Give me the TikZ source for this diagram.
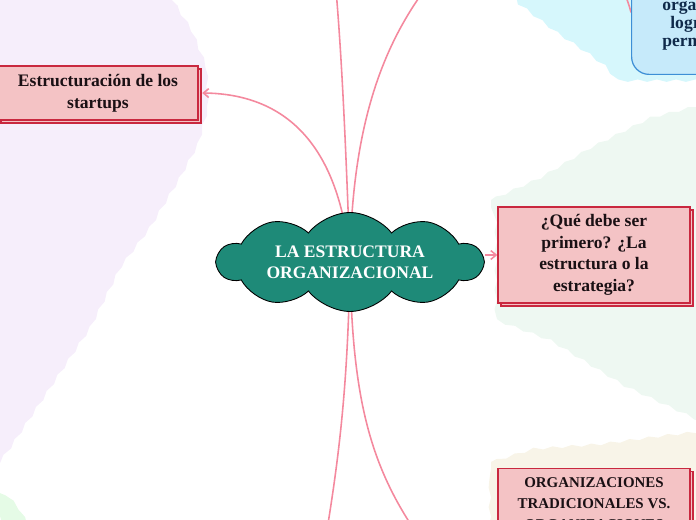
\documentclass[tikz,border=0pt]{standalone}
\usepackage{fontspec}
\setmainfont{Liberation Serif}
\usetikzlibrary{shapes.symbols,shadows,arrows.meta,decorations.pathmorphing}
\definecolor{lavender}{HTML}{F6EEFB}
\definecolor{skycyan}{HTML}{D6F7FC}
\definecolor{mintbg}{HTML}{EEF8F2}
\definecolor{creambg}{HTML}{F8F4E8}
\definecolor{leafbg}{HTML}{E5FBE6}
\definecolor{boxpink}{HTML}{F4C3C5}
\definecolor{boxred}{HTML}{C9283F}
\definecolor{boxtext}{HTML}{1A1014}
\definecolor{linkpink}{HTML}{F4899E}
\definecolor{cloudteal}{HTML}{1E8A78}
\definecolor{noteblue}{HTML}{C6EAFA}
\definecolor{noteedge}{HTML}{3D8FD6}
\definecolor{notetext}{HTML}{0F2A4A}
\pgfdeclarelayer{regions}
\pgfdeclarelayer{links}
\pgfsetlayers{regions,links,main}
\begin{document}
\begin{tikzpicture}[x=0.02cm,y=-0.02cm,
    topic/.style={rectangle, fill=boxpink, draw=boxred, line width=0.8pt,
        copy shadow={shadow xshift=0.06cm, shadow yshift=-0.06cm},
        align=center, text=boxtext, font=\bfseries\fontsize{10}{12.3}\selectfont},
    link/.style={draw=linkpink, line width=0.9pt},
    tip/.style={-{Straight Barb[length=3pt,width=5pt]}},
    region/.style={decorate, decoration={snake, amplitude=0.7pt, segment length=11pt}},
    notetxt/.style={anchor=base west, inner sep=0pt, text=notetext, font=\bfseries\fontsize{10}{12}\selectfont}]
    \useasboundingbox (0,0) rectangle (696,520);
    \clip (0,0) rectangle (696,520);

    \node[cloud, cloud puffs=10, cloud puff arc=105, cloud ignores aspect,
        minimum width=5.3cm, minimum height=1.98cm, fill=cloudteal, draw=black,
        line width=0.5pt, text=white, align=center,
        font=\bfseries\fontsize{10}{12}\selectfont] (hub) at (350,262) {LA ESTRUCTURA\\ORGANIZACIONAL};

    \node[topic, minimum width=4cm, minimum height=1.08cm] (est) at (98,93) {Estructuración de los\\startups};
    \node[topic, minimum width=3.84cm, minimum height=1.92cm] (que) at (594,255) {¿Qué debe ser\\primero? ¿La\\estructura o la\\estrategia?};
    \node[topic, minimum width=3.84cm, anchor=north, inner ysep=5pt,
        font=\bfseries\fontsize{8.5}{12}\selectfont] (org) at (594,468) {ORGANIZACIONES\\TRADICIONALES VS.\\ORGANIZACIONES};

    \node[rectangle, rounded corners=0.35cm, fill=noteblue, draw=noteedge, line width=0.7pt,
        minimum width=4cm, minimum height=2.48cm, anchor=south west] (note) at (631,75) {};
    \node[notetxt] (n1) at (662,11) {organización};
    \node[notetxt] (n2) at (670,29) {lograr};
    \node[notetxt] (n3) at (662,47) {permite};

    \coordinate (upA) at (336,-10);
    \coordinate (upB) at (440,-30);
    \coordinate (downA) at (327,530);
    \coordinate (downB) at (425,545);

    \begin{pgfonlayer}{regions}
    \fill[lavender, region] (-10,-10) -- (167,-10) -- (170,0) -- (187,27) -- (203,67) -- (205,110) -- (197,140)
        -- (177,177) -- (147,227) -- (117,267) -- (87,327) -- (43,393) -- (7,447) -- (-10,470) -- cycle;
    \fill[skycyan, region] (512,-10) -- (518,2) -- (555,30) -- (585,50) -- (605,65) -- (618,80) -- (706,80) -- (706,-10) -- cycle;
    \fill[mintbg, region] (491,200) -- (540,178) -- (590,148) -- (650,118) -- (706,104) -- (706,415)
        -- (620,375) -- (550,332) -- (491,310) -- cycle;
    \fill[creambg, region] (491,462) -- (530,450) -- (600,445) -- (660,437) -- (706,432) -- (706,530) -- (491,530) -- cycle;
    \fill[leafbg, region] (-10,492) -- (5,494) -- (15,505) -- (24,522) -- (-10,522) -- cycle;
    \end{pgfonlayer}

    \begin{pgfonlayer}{links}
    \draw[link, tip] (hub.center) .. controls (340,150) and (290,94) .. ([xshift=2pt]est.east);
    \draw[link] (hub.center) .. controls (346,150) and (342,60) .. (upA);
    \draw[link] (hub.center) .. controls (352,110) and (390,30) .. (upB)
        .. controls (560,-110) and (618,-40) .. (note.west);
    \draw[link, tip] (que.west -| hub.east) -- (que.west);
    \draw[link] (hub.center) .. controls (348,380) and (340,450) .. (downA);
    \draw[link] (hub.center) .. controls (352,400) and (370,470) .. (downB);
    \end{pgfonlayer}
\end{tikzpicture}
\end{document}
